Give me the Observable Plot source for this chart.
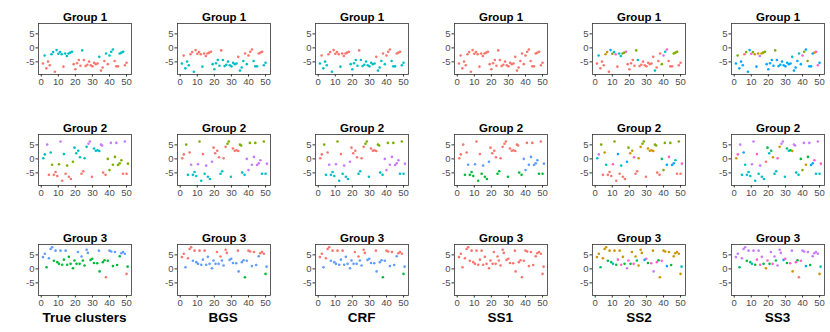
<!DOCTYPE html>
<html><head><meta charset="utf-8">
<script src="https://cdn.jsdelivr.net/npm/d3@7"></script>
<script src="https://cdn.jsdelivr.net/npm/@observablehq/plot@0.6"></script>
<style>
body{margin:0;background:#fff;font-family:"Liberation Sans",Arial,sans-serif;}
#chart{position:relative;width:830px;height:332px;overflow:hidden;}
.cell{position:absolute;}
.lab{position:absolute;font-weight:bold;font-size:13.5px;text-align:center;width:139px;line-height:18px;color:#000;}
</style></head><body><div id="chart"></div><script>
const methods = ["True clusters","BGS","CRF","SS1","SS2","SS3"];
const groups = ["Group 1","Group 2","Group 3"];
const xTicks = [0,10,20,30,40,50];
const yTicks = [-5,0,5];
const palette = {R:"#F8766D",C:"#00BFC4",G:"#00BA38",B:"#619CFF",O:"#7CAE00",P:"#C77CFF",Y:"#CD9600",M:"#FF61CC",S:"#00A9FF",T:"#00BE67"};

// Group 1
const g1x = [1,2,3,4,5,6,7,8,9,10,11,12,13,14,15,16,17,18,19,20,21,22,23,24,25,26,27,28,29,30,31,32,33,34,35,36,37,38,39,40,41,42,43,44,45,46,47,48,49,50];
const g1y = [-5.6,-2.7,-7.3,-4.9,-6.2,-2.3,-1.5,-8.5,-0.8,-2.1,
             -1.5,-2.3,-6.7,-2.0,-2.9,-2.0,-1.7,-1.4,-5.8,-7.6,
             -5.5,-4.3,-6.4,-0.9,-4.3,-6.5,-6.0,-4.9,-6.2,-6.6,
             -5.3,-5.8,-5.6,-3.2,-8.1,-7.0,-4.7,-2.0,-5.8,-2.7,
             -1.4,-0.6,-4.7,-6.6,-6.6,-2.0,-1.7,-1.4,-6.2,-5.3];
const g1lab = {
  "True clusters": "RCRRRCCRCCCCRCCCCCRRRRRCRRRRRRRRRCRRRCRCCCRRRCCCRR",
  "BGS":           "CRCCCRRCRRRRCRRRRRCCCCCRCCCCCCCCCRCCCRCRRRCCCRRRCC",
  "CRF":           "CRCCCRRCRRRRCRRRRRCCCCCRCCCCCCCCCRCCCRCRRRCCCRRRCC",
  "SS1":           "RRRRRRRRRRRRRRRRRRRRRRRRRRRRRRRRRRRRRRRRRRRRRRRRRR",
  "SS2":           "RCRRRYYRSOCMRCCOOMRRRRROCRRRRRRRRRCRRROPCMRRROOORR",
  "SS3":           "SOSSSROSSMOYSYPYOOSSSSSOSSSSSSSSSCSSSCSMOSOSSSYMMSS"
};

// Group 2
const g2x = [1.2,2.1,3.5,4.5,5.5,6.4,7.4,8.4,9.4,10.4,11.3,12.3,13.3,14.3,15.2,16.2,17.4,18.6,19.5,20.5,21.7,22.7,23.6,24.6,25.4,26.6,27.7,28.5,29.7,30.9,32,33,34,35,35.7,36.3,37.7,39,40,40.8,42,43.2,44,45,46,47,47.9,49,50,50.8];
const g2y = [0.2,1.6,5.1,-5.7,2.3,-2.1,-5.7,-4.7,-6.1,-1.9,
             6.2,-7.8,1.7,-5.3,-2.4,-6.4,-7.2,-1.0,4.0,2.0,
             2.9,0.6,-5.3,-4.4,0.2,4.3,5.4,6.2,-6.4,3.7,
             2.9,3.1,2.8,5.1,4.8,-4.9,-5.7,0.0,-4.0,5.7,
             -2.1,0.7,5.7,-2.2,-1.6,-0.5,-5.3,6.2,-5.3,-1.7];
const g2lab = {
  "True clusters": "CCPRCORRROPRCRORROCCCCRRCCPPRCCCCPPRROOPOOPOOORPRO",
  "BGS":           "RROCRPCCCPOCRCPCCPRRRRCCRROOCRRRROOCCPPOPPOPPPCOCP",
  "CRF":           "RROCRPCCCPOCRCPCCPRRRRCCRROOCRRRROOCCPPOPPOPPPCOCP",
  "SS1":           "RRRGRBGGGBRGRGBGGBRRRRGGRRRRGRRRRRRGGBBRBBRBBBGRGB",
  "SS2":           "CPORYCRRRMORSRCRRSOYYMRRYYOORYYYYOORRTOOSMOSSCRORM",
  "SS3":           "YMPCSCCCCPPCMCPCCRGCTYCCMYPPCTCGYPPCCGOPYGPSSMCPCM"
};

// Group 3
const g3x = [1,2.1,3.1,4.5,5.5,6.4,7.4,8.4,9.4,10.4,11.3,12.3,13.3,14.3,15.2,16.2,17.2,18.6,19.5,20.7,21.5,22.5,23.6,24.4,25.4,26.6,27.3,28.9,29.9,30.9,32.8,33.8,34.2,36.1,37.1,37.9,39,40,41,42,43.2,44.5,46,46.9,47.9,49,50,50.6];
const g3y = [4.2,5.4,0.6,3.8,7.1,7.7,2.9,6.5,2.4,1.8,
             6.5,1.5,3.3,6.5,1.5,4.3,1.8,0.2,3.0,1.8,
             6.0,1.8,4.4,3.0,1.2,6.8,5.7,3.2,3.6,2.1,
             2.0,6.5,-0.9,2.4,3.1,-3.0,2.9,6.5,6.2,1.0,
             6.0,1.4,4.5,5.6,6.0,5.4,-1.8,0.8];
const g3lab = {
  "True clusters": "BBGBBBGBGGBGGBGGGGGGBGBGGBBGGGGBGGGRGBBGBGGBBBRG",
  "BGS":           "RRBRRRBRBBRBBRBBBBBBRBRBBRRBBBBRBBBGBRRBRBBRRRGB",
  "CRF":           "RRBRRRBRBBRBBRBBBBBBRBRBBRRBBBBRBBBGBRRBRBBRRRGB",
  "SS1":           "RRRRRRRRRRRRRRRRRRRRRRRRRRRRRRRRRRRRRRRRRRRRRRRR",
  "SS2":           "YYTYYYGYTCYGMYMYGPMGYMYTYYYSMGMYPMGYMYYSYGYYYYYC",
  "SS3":           "PPTPPPGPTCPGMPMPGYMGPMPTPPPSMGMPYMGRMPPSPGPPPPYC"
};

const groupData = [[g1x,g1y,g1lab],[g2x,g2y,g2lab],[g3x,g3y,g3lab]];

const chart = document.getElementById("chart");
const colStep = 138.6, rowTops = [0,111,221];
const W = 139, H = 100;

groupData.forEach(([xs,ys,labs], gi) => {
  methods.forEach((m, mi) => {
    const codes = labs[m].split("");
    const data = xs.map((x,i) => ({x, y: ys[i], c: palette[codes[i]] || "#F8766D"}));
    const svg = Plot.plot({
      width: W, height: H,
      marginLeft: 38, marginRight: 8, marginTop: 23, marginBottom: 26,
      style: {fontSize: "9.5px", fontFamily: "'Liberation Sans', Arial, sans-serif", color: "#4D4D4D", background: "transparent", overflow: "visible"},
      x: {domain: [-1.6, 52.9], label: null},
      y: {domain: [-9.5, 8.7], label: null},
      color: {type: "identity"},
      marks: [
        Plot.frame({stroke: "#333", strokeWidth: 0.8}),
        Plot.axisX({ticks: xTicks, tickSize: 2.5, tickPadding: 1.5, tickFormat: d => String(d), stroke: "#333"}),
        Plot.axisY({ticks: yTicks, tickSize: 2.5, tickPadding: 1.5, tickFormat: d => String(d), stroke: "#333"}),
        Plot.dot(data, {x: "x", y: "y", fill: "c", r: 1.3, stroke: null}),
        Plot.text([groups[gi]], {frameAnchor: "top", dy: -11, fontWeight: "bold", fontSize: 11.5, fill: "#000"})
      ]
    });
    svg.classList.add("cell");
    svg.style.left = (mi * colStep) + "px";
    svg.style.top = rowTops[gi] + "px";
    chart.appendChild(svg);
  });
});

methods.forEach((m, mi) => {
  const d = document.createElement("div");
  d.className = "lab";
  d.textContent = m;
  d.style.left = (mi * colStep + 38 + 46.5 - W/2) + "px";
  d.style.top = "309px";
  chart.appendChild(d);
});
</script></body></html>
